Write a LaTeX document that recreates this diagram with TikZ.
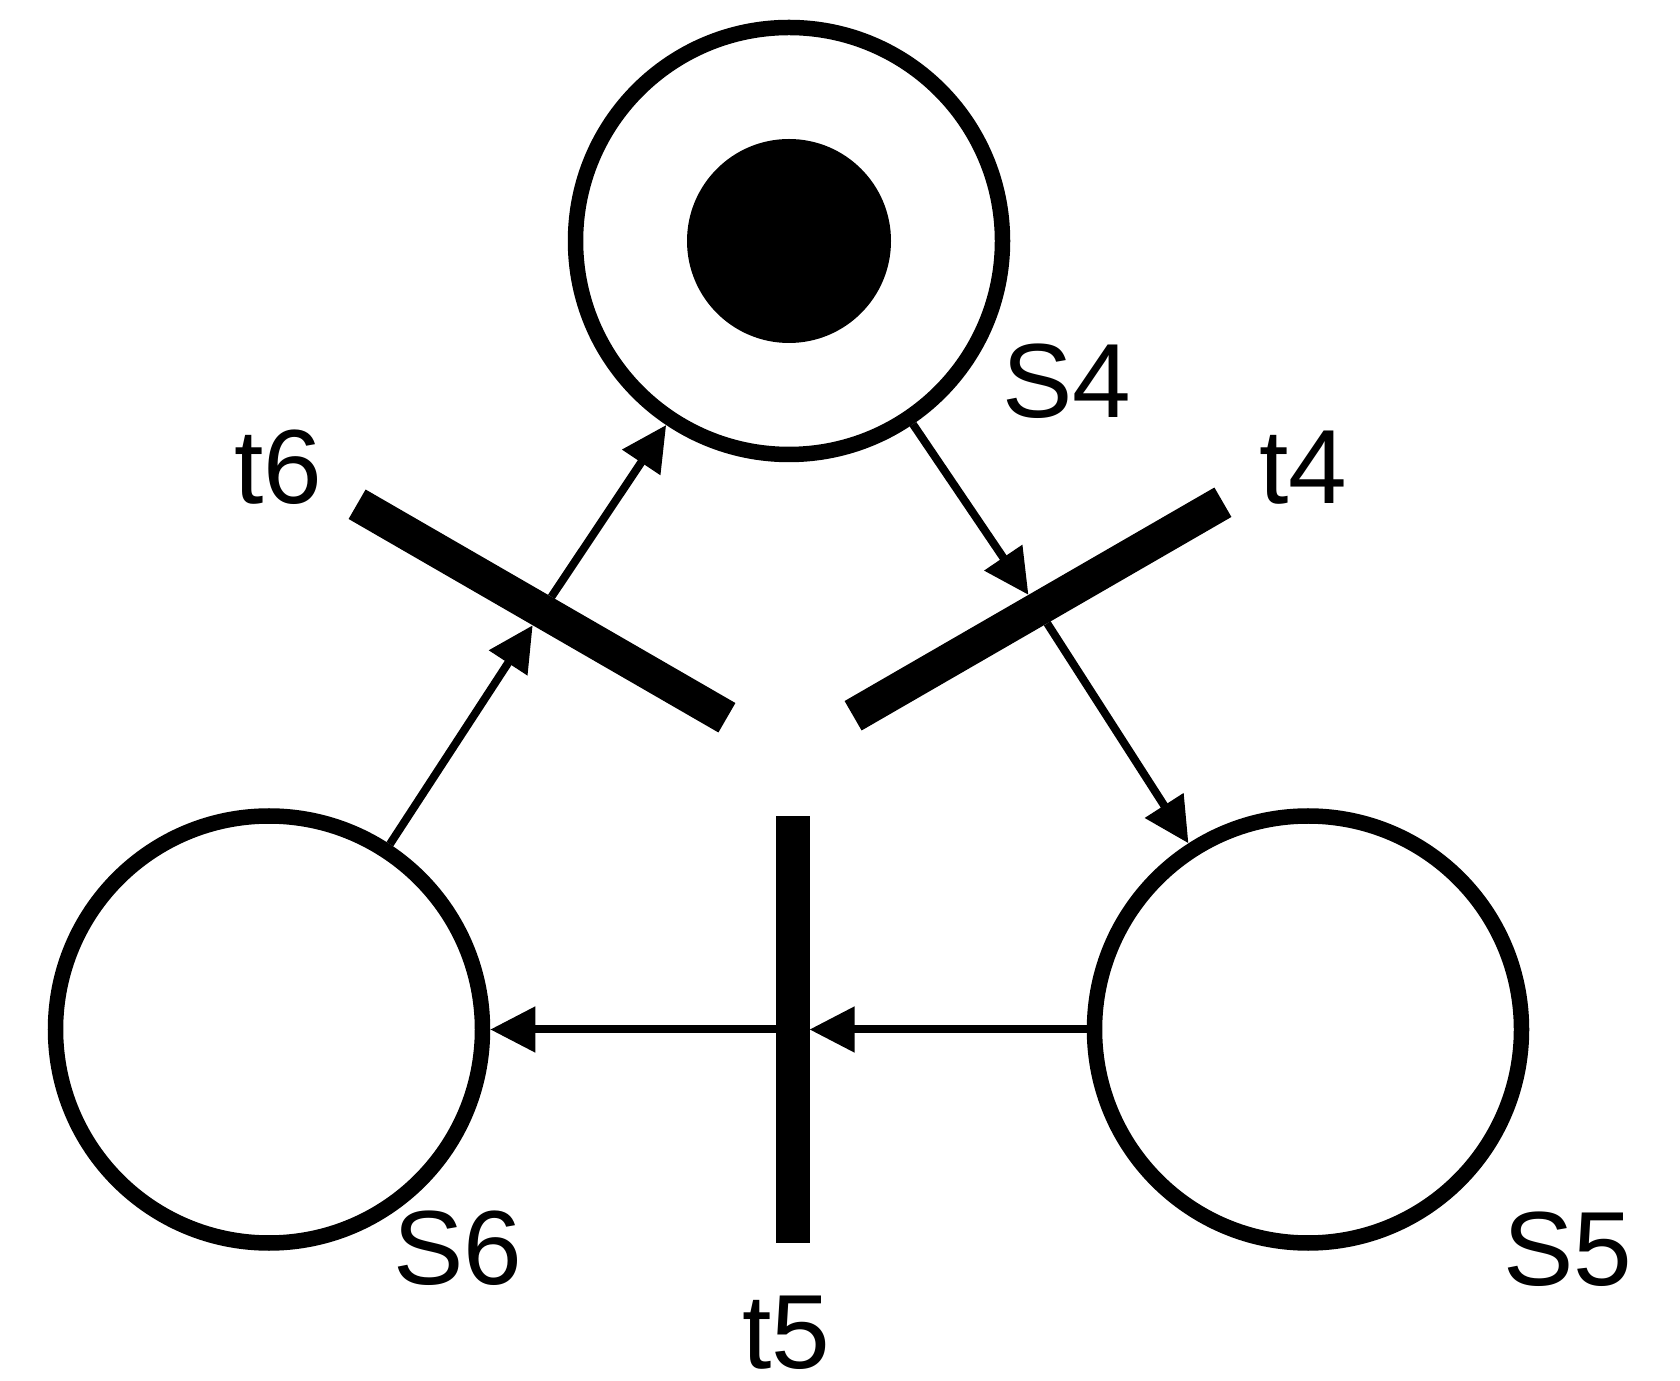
\documentclass[tikz,border=0pt]{standalone}
\usepackage{fontspec}
\setmainfont{Liberation Sans}
\usetikzlibrary{arrows.meta}

\begin{document}
\begin{tikzpicture}[
  place/.style={circle, draw=black, line width=1.55mm, minimum size=4.27cm, inner sep=0pt},
  trans/.style={rectangle, fill=black, minimum width=4.27cm, minimum height=3.4mm,
                inner sep=0pt, outer sep=0pt},
  arc/.style={-{Triangle[length=4.5mm, width=4.4mm]}, line width=0.8mm},
  lbl/.style={font=\fontsize{30}{36}\selectfont, anchor=base, inner sep=0pt}
]
\useasboundingbox (0,0) rectangle (16.8,-13.81);

% Places
\node[place] (S4) at (7.89,-2.41) {};
\node[place] (S6) at (2.69,-10.295) {};
\node[place] (S5) at (13.08,-10.295) {};

% Token in S4
\fill[black] (S4.center) circle (1.02);

% Transitions
\node[trans, rotate=-30] (t6) at (5.42,-6.11) {};
\node[trans, rotate=30] (t4) at (10.38,-6.09) {};
\node[trans, rotate=90] (t5) at (7.925,-10.295) {};

% Labels
\node[lbl] (S4name) at (10.67,-4.18) {S4};
\node[lbl] (t4name) at (13.03,-5.035) {t4};
\node[lbl] (t6name) at (2.78,-5.035) {t6};
\node[lbl] (S6name) at (4.58,-12.84) {S6};
\node[lbl] (S5name) at (15.675,-12.85) {S5};
\node[lbl] (t5name) at (7.86,-13.683) {t5};

% Arcs
\draw[arc] (S4) -- (t4);
\draw[arc] (t4) -- (S5);
\draw[arc] (S5) -- (t5);
\draw[arc] (t5) -- (S6);
\draw[arc] (S6) -- (t6);
\draw[arc] (t6) -- (S4);

\end{tikzpicture}
\end{document}
